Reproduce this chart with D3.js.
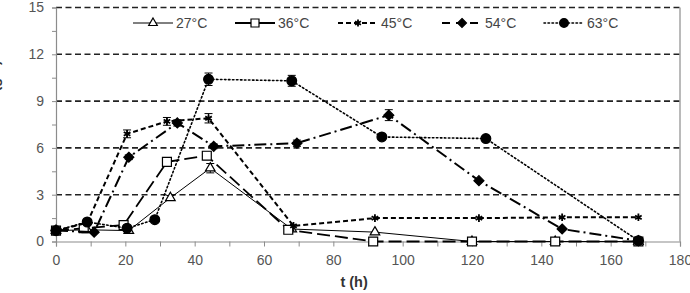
<!DOCTYPE html>
<html>
<head>
<meta charset="utf-8">
<script src="https://cdn.jsdelivr.net/npm/d3@7"></script>
<style>
  body { margin: 0; background: #fff; }
  svg { display: block; }
  text { font-family: "Liberation Sans", "Open Sans", sans-serif; }
</style>
</head>
<body>
<div id="chart"></div>
<script>
// series data (time in h, value, error)
const t27 = [0, 9, 21, 33, 44.5, 68, 92, 120, 144, 168];
const v27 = [0.7, 0.75, 0.7, 2.8, 4.7, 0.8, 0.6, 0, 0, 0];
const e27 = [0.1, 0.1, 0.1, 0.15, 0.3, 0.1, 0.1, 0, 0, 0];

const t36 = [0, 8, 19.5, 32, 43.5, 67, 91.5, 120, 144, 168];
const v36 = [0.7, 0.85, 1.05, 5.1, 5.5, 0.75, 0, 0, 0, 0];
const e36 = [0.1, 0.1, 0.1, 0.2, 0.25, 0.1, 0, 0, 0, 0];

const t45 = [0, 9, 20.5, 32, 44, 68.5, 92, 122, 146, 168];
const v45 = [0.7, 1.2, 6.9, 7.7, 7.9, 1.0, 1.5, 1.5, 1.55, 1.55];
const e45 = [0.1, 0.1, 0.25, 0.25, 0.3, 0.1, 0.1, 0.1, 0.1, 0.1];

const t54 = [0, 11, 21, 35, 45.5, 69.5, 96, 122, 146, 168];
const v54 = [0.7, 0.6, 5.4, 7.6, 6.1, 6.3, 8.1, 3.9, 0.8, 0.05];
const e54 = [0.1, 0.1, 0.15, 0.2, 0.15, 0.2, 0.35, 0.1, 0.1, 0.05];

const t63 = [0, 9, 20.5, 28.5, 44, 68, 94, 124, 168];
const v63 = [0.7, 1.25, 0.85, 1.4, 10.4, 10.3, 6.7, 6.6, 0.05];
const e63 = [0.1, 0.1, 0.1, 0.1, 0.4, 0.35, 0.15, 0.15, 0.05];

const seriesNames = ["27°C", "36°C", "45°C", "54°C", "63°C"];
const xTicks = [0, 20, 40, 60, 80, 100, 120, 140, 160, 180];
const yTicks = [0, 3, 6, 9, 12, 15];

const width = 690, height = 293;
const x = d3.scaleLinear().domain([0, 180]).range([56, 680]);
const y = d3.scaleLinear().domain([0, 15]).range([241.5, 7.5]);

const svg = d3.select("#chart").append("svg")
    .attr("width", width).attr("height", height);

// horizontal dashed gridlines
svg.append("g").selectAll("line")
    .data(yTicks.filter(d => d > 0))
    .enter().append("line")
    .attr("x1", x(0)).attr("x2", x(180))
    .attr("y1", d => y(d)).attr("y2", d => y(d))
    .attr("stroke", "#222").attr("stroke-width", 1.6)
    .attr("stroke-dasharray", "6,3.5");

// right border
svg.append("line")
    .attr("x1", x(180)).attr("x2", x(180))
    .attr("y1", y(15)).attr("y2", y(0))
    .attr("stroke", "#8c8c8c").attr("stroke-width", 1.2);

// y axis
const yAxis = svg.append("g")
    .attr("transform", `translate(${x(0)},0)`)
    .call(d3.axisLeft(y).tickValues(d3.range(0, 15.1, 1.5)).tickSize(4)
        .tickFormat(d => (d % 3 === 0 ? d : "")));
yAxis.select(".domain").attr("stroke", "#8c8c8c").attr("stroke-width", 1.2);
yAxis.selectAll(".tick line").attr("stroke", "#8c8c8c");
yAxis.selectAll("text").attr("x", -12).attr("fill", "#555")
    .style("font-size", "14px");

// x axis
const xAxis = svg.append("g")
    .attr("transform", `translate(0,${y(0)})`)
    .call(d3.axisBottom(x).tickValues(d3.range(0, 181, 10)).tickSize(5)
        .tickFormat(d => (d % 20 === 0 ? d : "")));
xAxis.select(".domain").attr("stroke", "#8c8c8c").attr("stroke-width", 1.2);
xAxis.selectAll(".tick line").attr("stroke", "#8c8c8c");
xAxis.selectAll("text").attr("y", 14).attr("fill", "#555")
    .style("font-size", "14px");

// axis titles
svg.append("text")
    .attr("x", x(86)).attr("y", 287)
    .attr("text-anchor", "middle")
    .attr("font-weight", "bold").attr("font-size", 14.5).attr("fill", "#333")
    .text("t (h)");
svg.append("text")
    .attr("transform", "translate(-1,108) rotate(-90)")
    .attr("text-anchor", "middle")
    .attr("font-weight", "bold").attr("font-size", 14.5).attr("fill", "#333")
    .text("Biomasa (g/L)");

const diamond = {
  draw(ctx, size) {
    const r = Math.sqrt(size / 2);
    ctx.moveTo(0, -r); ctx.lineTo(r, 0); ctx.lineTo(0, r); ctx.lineTo(-r, 0); ctx.closePath();
  }
};

const styles = [
  { dash: null, width: 1, symbol: d3.symbolTriangle, size: 40, fill: "#fff", legendDash: null },
  { dash: "13,5", width: 1.8, symbol: d3.symbolSquare, size: 80, fill: "#fff", legendDash: null },
  { dash: "5,3", width: 2, symbol: d3.symbolAsterisk, size: 40, fill: "none", legendDash: "5,3" },
  { dash: "12,4,2,4", width: 2, symbol: diamond, size: 50, fill: "#000", legendDash: "8,6" },
  { dash: "1.5,2.5", width: 1.6, symbol: d3.symbolCircle, size: 75, fill: "#000", legendDash: "1.5,2.5" }
];

const allSeries = [
  { t: t27, v: v27, e: e27 },
  { t: t36, v: v36, e: e36 },
  { t: t45, v: v45, e: e45 },
  { t: t54, v: v54, e: e54 },
  { t: t63, v: v63, e: e63 }
];

const line = d3.line().x(d => x(d.t)).y(d => y(d.v));

allSeries.forEach((s, i) => {
  const st = styles[i];
  const pts = s.t.map((t, j) => ({ t: t, v: s.v[j], e: s.e[j] }));
  const g = svg.append("g");
  g.append("path")
      .attr("d", line(pts))
      .attr("fill", "none").attr("stroke", "#000")
      .attr("stroke-width", st.width)
      .attr("stroke-dasharray", st.dash)
      .attr("stroke-linecap", i === 4 ? "round" : "butt");

  // error bars
  const eb = g.selectAll(".eb").data(pts.filter(p => p.e > 0.12)).enter().append("g");
  eb.append("line")
      .attr("x1", p => x(p.t)).attr("x2", p => x(p.t))
      .attr("y1", p => y(p.v + p.e)).attr("y2", p => y(p.v - p.e))
      .attr("stroke", "#000").attr("stroke-width", 1);
  [1, -1].forEach(sgn => {
    eb.append("line")
        .attr("x1", p => x(p.t) - 4).attr("x2", p => x(p.t) + 4)
        .attr("y1", p => y(p.v + sgn * p.e)).attr("y2", p => y(p.v + sgn * p.e))
        .attr("stroke", "#000").attr("stroke-width", 1);
  });

  // markers
  g.selectAll(".m").data(pts).enter().append("path")
      .attr("transform", p => `translate(${x(p.t)},${y(p.v)})`)
      .attr("d", d3.symbol().type(st.symbol).size(st.size))
      .attr("fill", st.fill)
      .attr("stroke", "#000")
      .attr("stroke-width", i === 2 ? 1.8 : 1.2);
});

// legend
const legendX = [133, 235, 338, 442, 544];
const legend = svg.append("g");
seriesNames.forEach((name, i) => {
  const st = styles[i];
  const lx = legendX[i], ly = 23;
  legend.append("line")
      .attr("x1", lx).attr("x2", lx + 40)
      .attr("y1", ly).attr("y2", ly)
      .attr("stroke", "#000").attr("stroke-width", st.width)
      .attr("stroke-dasharray", st.legendDash)
      .attr("stroke-linecap", i === 4 ? "round" : "butt");
  legend.append("path")
      .attr("transform", `translate(${lx + 20},${ly})`)
      .attr("d", d3.symbol().type(st.symbol).size(st.size * 0.8))
      .attr("fill", st.fill)
      .attr("stroke", "#000")
      .attr("stroke-width", i === 2 ? 1.8 : 1.2);
  legend.append("text")
      .attr("x", lx + 43).attr("y", ly + 5)
      .attr("font-size", 14).attr("fill", "#444")
      .text(name);
});
</script>
</body>
</html>
